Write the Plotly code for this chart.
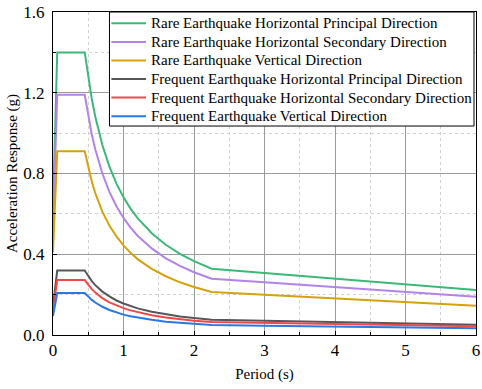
import plotly.graph_objects as go

period = [0, 0.06, 0.45, 0.5, 0.55, 0.6, 0.7, 0.8, 0.9, 1.0, 1.1, 1.2, 1.4, 1.6, 1.8, 2.0, 2.25, 3, 4, 5, 6]

rare_h_principal = [0.63, 1.40, 1.40, 1.273, 1.169, 1.081, 0.941, 0.834, 0.750, 0.682, 0.626, 0.579, 0.504, 0.447, 0.402, 0.366, 0.328, 0.307, 0.279, 0.251, 0.223]
rare_h_secondary = [0.536, 1.19, 1.19, 1.082, 0.993, 0.919, 0.800, 0.709, 0.638, 0.580, 0.532, 0.492, 0.429, 0.380, 0.342, 0.311, 0.279, 0.261, 0.237, 0.214, 0.190]
rare_vertical = [0.410, 0.91, 0.91, 0.828, 0.760, 0.702, 0.611, 0.542, 0.488, 0.444, 0.407, 0.376, 0.328, 0.291, 0.261, 0.238, 0.213, 0.200, 0.182, 0.163, 0.145]
freq_h_principal = [0.144, 0.32, 0.32, 0.291, 0.267, 0.247, 0.215, 0.191, 0.171, 0.156, 0.143, 0.132, 0.115, 0.102, 0.092, 0.084, 0.075, 0.070, 0.064, 0.057, 0.051]
freq_h_secondary = [0.122, 0.272, 0.272, 0.247, 0.227, 0.210, 0.183, 0.162, 0.146, 0.133, 0.122, 0.113, 0.098, 0.087, 0.078, 0.071, 0.064, 0.060, 0.054, 0.049, 0.043]
freq_vertical = [0.094, 0.208, 0.208, 0.189, 0.174, 0.161, 0.140, 0.124, 0.111, 0.101, 0.093, 0.086, 0.075, 0.066, 0.060, 0.054, 0.049, 0.046, 0.041, 0.037, 0.033]

names = [
    "Rare Earthquake Horizontal Principal Direction",
    "Rare Earthquake Horizontal Secondary Direction",
    "Rare Earthquake Vertical Direction",
    "Frequent Earthquake Horizontal Principal Direction",
    "Frequent Earthquake Horizontal Secondary Direction",
    "Frequent Earthquake Vertical Direction",
]
series = [rare_h_principal, rare_h_secondary, rare_vertical,
          freq_h_principal, freq_h_secondary, freq_vertical]
colors = ["#3cb878", "#b383e8", "#d4a20c", "#575757", "#f04848", "#2a78e4"]

FONT = "Liberation Serif"

fig = go.Figure()
for name, ys, c in zip(names, series, colors):
    fig.add_trace(go.Scatter(x=period, y=ys, mode="lines", name=name,
                             line=dict(color=c, width=2), showlegend=False))

# custom legend box (paper coordinates) to match the compact row spacing
leg_x0, leg_x1, leg_y0, leg_y1 = 0.1335, 0.9953, 0.647, 1.0
fig.add_shape(type="rect", xref="paper", yref="paper",
              x0=leg_x0, x1=leg_x1, y0=leg_y0, y1=leg_y1,
              line=dict(color="black", width=1), fillcolor="white", layer="above")
row_top, row_step = 0.965, 0.0575
for i, (name, c) in enumerate(zip(names, colors)):
    yy = row_top - i * row_step
    fig.add_shape(type="line", xref="paper", yref="paper",
                  x0=0.138, x1=0.220, y0=yy, y1=yy,
                  line=dict(color=c, width=2), layer="above")
    fig.add_annotation(xref="paper", yref="paper", x=0.226, y=yy,
                       xanchor="left", yanchor="middle", showarrow=False,
                       text=name, font=dict(family=FONT, size=15, color="black"))

fig.update_layout(
    width=482, height=389,
    margin=dict(l=53, r=2, t=12, b=54),
    paper_bgcolor="white", plot_bgcolor="white",
    font=dict(family=FONT, size=16, color="black"),
    showlegend=False,
)
fig.update_xaxes(
    range=[0, 6], dtick=1, tick0=0,
    showline=True, linecolor="black", linewidth=1, mirror=True,
    showgrid=True, gridcolor="#9a9a9a", gridwidth=1,
    ticks="inside", ticklen=4, tickcolor="black",
    ticklabeloverflow="allow", ticklabelstandoff=0,
    zeroline=False,
    minor=dict(dtick=0.5, showgrid=True, gridcolor="#d0d0d0", griddash="dot",
               ticks="inside", ticklen=3, tickcolor="black"),
    title=dict(text="Period (s)", font=dict(family=FONT, size=15), standoff=9),
    tickfont=dict(family=FONT, size=17),
)
fig.update_yaxes(
    range=[0, 1.6], dtick=0.4, tick0=0, tickformat=".1f",
    showline=True, linecolor="black", linewidth=1, mirror=True,
    showgrid=True, gridcolor="#9a9a9a", gridwidth=1,
    ticks="inside", ticklen=4, tickcolor="black",
    ticklabelstandoff=4,
    zeroline=False,
    minor=dict(dtick=0.2, showgrid=True, gridcolor="#d0d0d0", griddash="dot",
               ticks="inside", ticklen=3, tickcolor="black"),
    title=dict(text="Acceleration Response (g)", font=dict(family=FONT, size=15), standoff=2),
    tickfont=dict(family=FONT, size=17),
)

fig.write_html("out.html")
